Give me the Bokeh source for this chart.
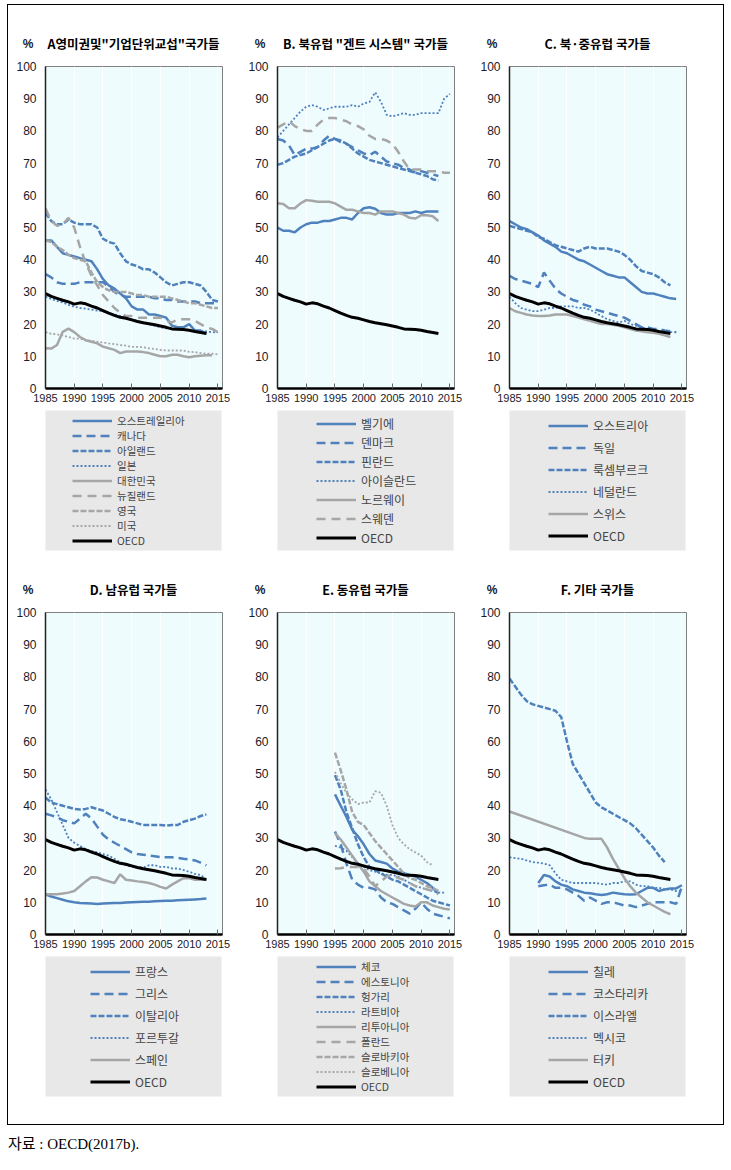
from bokeh.plotting import figure
from bokeh.models import Legend, LegendItem, FixedTicker, Range1d, Div
from bokeh.layouts import column, row
from bokeh.embed import file_html
from bokeh.resources import INLINE

# ---------------- data ----------------
YEAR_TICKS = [1985, 1990, 1995, 2000, 2005, 2010, 2015]
PCT_TICKS = [0, 10, 20, 30, 40, 50, 60, 70, 80, 90, 100]

OECD_START = 1985
OECD = [29.5, 28.6, 28.0, 27.4, 26.9, 26.2, 26.6, 26.3, 25.6, 25.0, 24.2, 23.4, 22.7, 22.1, 21.8,
        21.3, 20.8, 20.4, 20.1, 19.8, 19.4, 19.0, 18.5, 18.4, 18.3, 18.1, 17.7, 17.4, 17.1]

# Panel A (start 1985)
A_AUS = [46, 46, 44, 42, 41.5, 41, 40.5, 40, 39.5, 37, 34, 32, 31, 29.5, 28, 25.5, 24.5, 24.5, 23, 23,
         22.5, 22, 19.5, 19, 19, 20, 18, 18, 17]
A_CAN = [35.5, 34.5, 33, 32.5, 32.5, 32.5, 33, 33, 33, 33, 33, 31.5, 30, 29, 28.5, 28.5, 28.5, 28.5,
         28.5, 28, 28, 27.5, 27.5, 27, 27, 27, 27, 26.5, 26.5, 26.5, 26.5]
A_IRL = [54.5, 52, 51, 51, 52.5, 51.5, 51, 51, 51, 50, 46.5, 45.5, 45, 42, 39.5, 38.5, 38, 37, 37, 36,
         34.5, 33, 32, 32.5, 33, 33, 32.5, 32, 30, 27.5, 27]
A_JPN = [28.5, 27.8, 27.2, 26.7, 26, 25.4, 25, 24.8, 24.5, 24.2, 24, 23.5, 23, 22.5, 22, 21.5, 21, 20.5,
         20, 19.5, 19, 18.7, 18.5, 18.3, 18.2, 18, 17.9, 17.8, 17.7, 17.5, 17.4]
A_KOR = [12.5, 12.4, 13.5, 17.6, 18.6, 17.5, 16, 15, 14.5, 14, 13, 12.5, 12, 11, 11.5, 11.5, 11.5, 11.3,
         11, 10.5, 10, 10, 10.5, 10.5, 10, 9.7, 10, 10.2, 10.3, 10.3]
A_NZL = [56, 52, 50.5, 51, 53, 50, 44, 39, 35, 32, 29, 27, 25, 23.5, 22.5, 22.5, 22, 22, 22, 22, 22, 21,
         20.5, 21.5, 21.5, 21.5, 21, 20, 19, 18.5, 17.5]
A_GBR = [46, 45.5, 44, 43, 41.5, 40.5, 40, 39.5, 36, 33, 31.5, 30.5, 30, 30, 30, 29.5, 29, 29, 28.5, 28.5,
         28.5, 28.5, 28, 27.5, 27, 26.5, 26.5, 26, 25.5, 25, 25]
A_USA = [17.5, 17, 16.8, 16.5, 16, 15.5, 15.5, 15, 14.8, 14.5, 14.3, 14, 13.8, 13.5, 13.3, 12.9, 12.9,
         12.8, 12.5, 12.3, 12, 11.8, 11.8, 11.8, 11.8, 11.4, 11.3, 11, 10.8, 10.8, 10.6]

# Panel B (start 1985)
B_BEL = [50, 49, 49, 48.5, 50, 51, 51.5, 51.5, 52, 52, 52.5, 53, 53, 52.5, 54.5, 56, 56.3, 55.8, 54.5,
         54, 54, 54.5, 54.5, 54.5, 55, 54.5, 55, 55, 55]
B_DNK = [77.5, 77, 75.5, 72.5, 73.5, 74.5, 74.5, 75, 77, 78.5, 77.5, 76.5, 76, 75, 74, 73, 72.5, 73.5,
         72, 70.5, 70, 69.5, 68.5, 68, 67, 67.5, 67, 66.5, 66]
B_FIN = [69.5, 70, 71, 72, 72.5, 73, 74, 75, 76, 77, 77.5, 77, 76, 74.5, 73, 72, 71, 70.5, 70, 69.5, 69,
         68.5, 68, 67.5, 67, 66.5, 66, 65, 64.5]
B_ISL = [78, 80, 82, 84, 86, 87.5, 88, 87.5, 86.5, 87, 87.5, 87.5, 87.5, 88, 87.5, 88.5, 89, 92, 89, 85,
         84.5, 85, 85.5, 85, 85, 85.5, 85.5, 85.5, 85.5, 90, 91.5]
B_NOR = [57.5, 57.3, 56, 56, 57.5, 58.5, 58.3, 58, 58, 58, 57.5, 56.5, 55.5, 55.5, 55, 54.5, 54.5, 54,
         55, 55, 55, 54.5, 54, 53, 52.8, 53.8, 53.8, 53.5, 52]
B_SWE = [81, 82, 83, 81.5, 80.5, 80, 80, 82, 83.5, 84, 84, 83.5, 83, 82, 81.5, 80.5, 78.5, 77.5, 77.5,
         77, 76, 73.5, 70.5, 68, 68, 68, 67.5, 67.5, 67.5, 67, 67]

# Panel C (start 1985)
C_AUT = [52, 51, 50, 49.5, 48.5, 47.5, 46, 45, 44, 42.5, 42, 41, 40, 39.5, 38.5, 37.5, 36.5, 35.5, 35,
         34.5, 34.5, 33, 31.5, 30, 29.5, 29.5, 29, 28.5, 28, 27.8]
C_DEU = [35, 34, 33.5, 33, 32.5, 31.5, 36, 33.5, 31, 29.5, 28.5, 27.5, 27, 26, 25.5, 24.5, 24, 23.5, 23,
         22.5, 22, 21, 20, 19, 19, 18.5, 18.5, 18, 17.8, 17.5]
C_LUX = [50.5, 50, 49.5, 49, 48.5, 47, 46.5, 45.5, 44.5, 44, 43.5, 43, 42.5, 43.5, 44, 43.5, 43.5, 43.5,
         43, 42.5, 41.5, 40, 38, 36.5, 36, 35.5, 34.5, 33, 32]
C_NLD = [28.5, 26.5, 25, 24.5, 24, 24, 24.5, 25, 25, 25.5, 25.5, 25.5, 25, 25, 24.5, 23.5, 22.5, 21.5,
         21, 20.5, 21, 20, 19.5, 19, 18.5, 18, 17.5, 17.5, 17.5, 17.5]
C_CHE = [25, 24, 23.5, 23, 22.7, 22.5, 22.5, 22.7, 23, 23, 23, 22.5, 22, 21.5, 21, 20.5, 20, 20, 19.8,
         19.5, 19, 18.5, 18, 17.8, 17.5, 17.3, 17, 16.5, 16]

# Panel D (start 1985)
D_FRA = [12.5, 11.8, 11.3, 10.8, 10.3, 10, 9.8, 9.7, 9.6, 9.5, 9.6, 9.7, 9.8, 9.8, 9.9, 10, 10.1, 10.2,
         10.2, 10.3, 10.4, 10.5, 10.5, 10.6, 10.7, 10.8, 10.9, 11, 11.2]
D_GRC = [37.5, 37, 36.5, 35.5, 35, 34.5, 36, 37.5, 36, 33.5, 31, 29.5, 28.5, 27.5, 26.5, 25.5, 25, 24.8,
         24.5, 24.3, 24, 24, 24, 23.8, 23.5, 23.3, 23, 22.3, 21.5]
D_ITA = [42.5, 41, 40.5, 40, 39.5, 39, 38.8, 39, 39.5, 39, 38.5, 37.5, 36.5, 35.8, 35.5, 35, 34.5, 34,
         34, 34, 34, 33.8, 34, 34, 35, 35.5, 36, 36.8, 37.3]
D_PRT = [45, 42, 38, 34, 30, 28.5, 27.5, 26.5, 26, 25.5, 25, 24.5, 23.5, 22.5, 21.5, 21, 21, 20.8, 21.5,
         21.5, 21, 21, 20.5, 20.5, 20, 19.5, 18.8, 18.5, 17]
D_ESP = [12.5, 12.5, 12.5, 12.7, 13, 13.5, 15, 16.5, 17.8, 17.7, 17, 16.5, 16, 18.7, 17, 16.8, 16.5, 16.3,
         16, 15.5, 14.8, 14.3, 15.5, 16.5, 17.5, 17.5, 17, 17.1, 17]

# Panel E (start 1995)
E_CZE = [43.5, 40, 36.5, 32.5, 30.5, 28, 25, 23, 22.5, 22, 20.5, 19.5, 19, 18.5, 18, 17, 16, 14.5, 12.7]
E_EST = [32, 28, 22, 17, 15.5, 14.5, 14.5, 14, 11.5, 10, 9.5, 8.5, 7.5, 6.5, 8, 10, 8, 6.5, 6, 5.5, 5]
E_HUN = [49.5, 45, 38, 33, 28, 24, 21, 20, 19, 18, 17, 16.5, 15.5, 14.5, 13.5, 12.5, 11.5, 10.5, 10, 9.5, 9]
E_LVA = [27.5, 27, 26, 24, 22, 21, 20, 19.5, 19, 18.5, 18.5, 18, 17, 16, 15, 14.5, 14, 13.5, 13, 13]
E_LTU = [31.5, 29.5, 27, 24.5, 22, 19.5, 16.5, 15, 13.5, 12.5, 11.5, 10.5, 9.5, 9, 8.7, 10, 10, 9, 8.5, 8, 7.8]
E_POL = [20.5, 20.6, 21, 21, 21, 20.5, 18, 15, 16.5, 18, 18.5, 17.5, 17, 16, 15, 14.5, 14, 13.5, 12.5]
E_SVK = [56.5, 51, 45, 38, 35, 34, 31.5, 29, 27, 25, 23, 21, 19, 17.5, 17, 16, 15, 14.5, 13.5]
E_SVN = [50.5, 47, 44, 42, 40.5, 41, 41, 44.5, 44, 40, 34, 30, 28, 26.5, 25.5, 24.5, 22.5, 21.5]

# Panel F
F_CHL = [16, 18.5, 18, 16.5, 15.5, 15, 14, 13.5, 13, 12.8, 12.5, 12.3, 12.5, 13, 12.7, 12.5, 12.4, 12.5,
         13.5, 14.5, 14.5, 13.5, 14, 14.3, 14.3, 15.3]                      # from 1990
F_CRI = [15, 15.3, 15.5, 14.5, 14.5, 14, 13, 12, 10.5, 11.5, 10.5, 9.5, 10, 10, 9.5, 9, 9, 8.5, 9, 9.5,
         10, 10, 10, 10, 9.5, 15]                                            # from 1990
F_ISR = [79.5, 77, 74.5, 72.5, 71.5, 71, 70.5, 70, 69.5, 67.5, 60, 53, 50, 47, 44, 41, 39.5, 38.5, 37.5,
         36.5, 35.5, 34.5, 33, 31, 29, 27, 24.5, 22.5]                       # from 1985
F_MEX = [24, 23.7, 23.5, 23, 22.5, 22.3, 22, 21.5, 19, 17, 16.5, 16, 16, 16, 16, 16, 15.7, 15.5, 16, 16,
         16.5, 16.5, 15.5, 15, 15, 14.5, 14.5, 14, 14, 13.5, 13.5]           # from 1985
F_TUR = [38.2] + [None] * 12 + [30, 29.7, 29.7, 29.7, 27, 23.5, 20.5, 17.5, 15, 13, 11.5, 10, 9, 8, 7, 6.3]

TITLES = ['A영미권및"기업단위교섭"국가들', 'B. 북유럽 "겐트 시스템" 국가들', 'C. 북·중유럽 국가들',
          'D. 남유럽 국가들', 'E. 동유럽 국가들', 'F. 기타 국가들']

# ---------------- styles ----------------
BLUE = "#4f81bd"
GRAY = "#a6a6a6"
BG = "#effcfe"
NUM_FONT = "'Liberation Sans', Arial, sans-serif"
KR_FONT = "'Noto Sans CJK KR', sans-serif"

STY = {
    "sb": dict(line_color=BLUE, line_width=2.5),
    "db": dict(line_color=BLUE, line_width=2.5, line_dash="9 5"),
    "qb": dict(line_color=BLUE, line_width=2.5, line_dash="6 2"),
    "ob": dict(line_color=BLUE, line_width=1.8, line_dash="2 2"),
    "sg": dict(line_color=GRAY, line_width=2.5),
    "dg": dict(line_color=GRAY, line_width=2.5, line_dash="9 6"),
    "qg": dict(line_color=GRAY, line_width=2.5, line_dash="6 2"),
    "og": dict(line_color=GRAY, line_width=1.8, line_dash="2 2"),
    "k": dict(line_color="#000000", line_width=3),
}

PANELS = [
    [("오스트레일리아", 1985, A_AUS, "sb"), ("캐나다", 1985, A_CAN, "db"), ("아일랜드", 1985, A_IRL, "qb"),
     ("일본", 1985, A_JPN, "ob"), ("대한민국", 1985, A_KOR, "sg"), ("뉴질랜드", 1985, A_NZL, "dg"),
     ("영국", 1985, A_GBR, "qg"), ("미국", 1985, A_USA, "og")],
    [("벨기에", 1985, B_BEL, "sb"), ("덴마크", 1985, B_DNK, "db"), ("핀란드", 1985, B_FIN, "qb"),
     ("아이슬란드", 1985, B_ISL, "ob"), ("노르웨이", 1985, B_NOR, "sg"), ("스웨덴", 1985, B_SWE, "dg")],
    [("오스트리아", 1985, C_AUT, "sb"), ("독일", 1985, C_DEU, "db"), ("룩셈부르크", 1985, C_LUX, "qb"),
     ("네덜란드", 1985, C_NLD, "ob"), ("스위스", 1985, C_CHE, "sg")],
    [("프랑스", 1985, D_FRA, "sb"), ("그리스", 1985, D_GRC, "db"), ("이탈리아", 1985, D_ITA, "qb"),
     ("포르투갈", 1985, D_PRT, "ob"), ("스페인", 1985, D_ESP, "sg")],
    [("체코", 1995, E_CZE, "sb"), ("에스토니아", 1995, E_EST, "db"), ("헝가리", 1995, E_HUN, "qb"),
     ("라트비아", 1995, E_LVA, "ob"), ("리투아니아", 1995, E_LTU, "sg"), ("폴란드", 1995, E_POL, "dg"),
     ("슬로바키아", 1995, E_SVK, "qg"), ("슬로베니아", 1995, E_SVN, "og")],
    [("칠레", 1990, F_CHL, "sb"), ("코스타리카", 1990, F_CRI, "db"), ("이스라엘", 1985, F_ISR, "qb"),
     ("멕시코", 1985, F_MEX, "ob"), ("터키", 1985, F_TUR, "sg")],
]

# legend tuning per panel: (left inset, spacing, font size)
LEG = [(27, 0, "10.5px"), (39, 2, "12px"), (39, 5, "12px"), (45, 5, "12px"), (39, 0, "10.5px"),
       (39, 5, "12px")]


def xy(start, vals):
    xs, ys = [], []
    for i, v in enumerate(vals):
        if v is not None:
            xs.append(start + i)
            ys.append(v)
    return xs, ys


def header(idx, width):
    html = (
        f'<div style="position:relative;width:{width}px;height:53px;">'
        f'<div style="position:absolute;left:10px;top:31px;width:20px;height:16px;line-height:16px;'
        f'text-align:center;font-family:{NUM_FONT};font-size:12px;font-weight:bold;color:#1a1a2a;">%</div>'
        f'<div style="position:absolute;left:7px;top:31px;width:237px;height:16px;line-height:16px;'
        f'text-align:center;white-space:nowrap;font-family:{KR_FONT};font-size:12.5px;font-weight:bold;'
        f'color:#000000;">{TITLES[idx]}</div></div>'
    )
    return Div(text=html, width=width, height=53, margin=0)


def chart(idx, right_border):
    p = figure(frame_width=177, frame_height=322, min_border_left=37, min_border_right=right_border,
               min_border_top=8, min_border_bottom=22, x_range=Range1d(1985, 2015.8),
               y_range=Range1d(0, 100), toolbar_location=None, output_backend="svg",
               background_fill_color=BG, border_fill_color="white",
               outline_line_color="#808080", outline_line_width=1)
    p.xaxis.ticker = FixedTicker(ticks=YEAR_TICKS)
    p.yaxis.ticker = FixedTicker(ticks=PCT_TICKS)
    p.ygrid.visible = False
    p.xgrid.grid_line_color = "white"
    p.xgrid.grid_line_width = 1
    for ax in (p.xaxis[0], p.yaxis[0]):
        ax.major_label_text_font = NUM_FONT
        ax.major_label_text_color = "#1a1a2a"
        ax.minor_tick_line_color = None
        ax.major_tick_out = 0
    p.xaxis.major_label_text_font_size = "11px"
    p.yaxis.major_label_text_font_size = "12px"
    p.xaxis.major_tick_in = 5
    p.xaxis.major_tick_line_color = "#666666"
    p.xaxis.axis_line_width = 2.5
    p.xaxis.axis_line_color = "#000000"
    p.xaxis.major_label_standoff = 5
    p.yaxis.major_tick_in = 0
    p.yaxis.axis_line_width = 1.5
    p.yaxis.axis_line_color = "#222222"
    p.yaxis.major_label_standoff = 9
    for name, start, vals, st in PANELS[idx]:
        xs, ys = xy(start, vals)
        p.line(xs, ys, **STY[st])
    xs, ys = xy(OECD_START, OECD)
    p.line(xs, ys, **STY["k"])
    return p


def legend_fig(idx, right_border, bottom):
    inset, spacing, fsize = LEG[idx]
    lf = figure(frame_width=176, frame_height=140, min_border_left=35, min_border_right=right_border,
                min_border_top=0, min_border_bottom=bottom, x_range=Range1d(0, 1), y_range=Range1d(0, 1),
                toolbar_location=None, output_backend="svg", background_fill_color="#e8e8e8",
                border_fill_color="white", outline_line_color=None, x_axis_type=None, y_axis_type=None)
    items = []
    for name, start, vals, st in PANELS[idx]:
        r = lf.line([-10, -9], [-10, -9], **STY[st])
        items.append(LegendItem(label=name, renderers=[r]))
    r = lf.line([-10, -9], [-10, -9], **STY["k"])
    items.append(LegendItem(label="OECD", renderers=[r]))
    lg = Legend(items=items, location="center_left", margin=inset, padding=0, spacing=spacing,
                glyph_width=40, glyph_height=14, label_height=14, label_standoff=5,
                label_text_font=KR_FONT, label_text_font_size=fsize,
                background_fill_alpha=0, border_line_color=None)
    lf.add_layout(lg, "center")
    return lf


widths = [232, 232, 251]
rights = [18, 18, 37]
legrights = [21, 21, 40]
cols1 = [column(header(i, widths[i]), chart(i, rights[i]), legend_fig(i, legrights[i], 1))
         for i in range(3)]
cols2 = [column(header(i + 3, widths[i]), chart(i + 3, rights[i]), legend_fig(i + 3, legrights[i], 28))
         for i in range(3)]
framed = column(row(*cols1), row(*cols2), styles={"outline": "1px solid #000000"}, margin=(5, 0, 0, 8))
caption = Div(text="자료 : OECD(2017b).",
              styles={"font-family": "'Liberation Serif', 'Noto Sans CJK KR', serif", "font-size": "15px",
                      "color": "#000000"}, margin=(10, 0, 0, 8))
layout = column(framed, caption)

open("out.html", "w").write(file_html(layout, INLINE))
